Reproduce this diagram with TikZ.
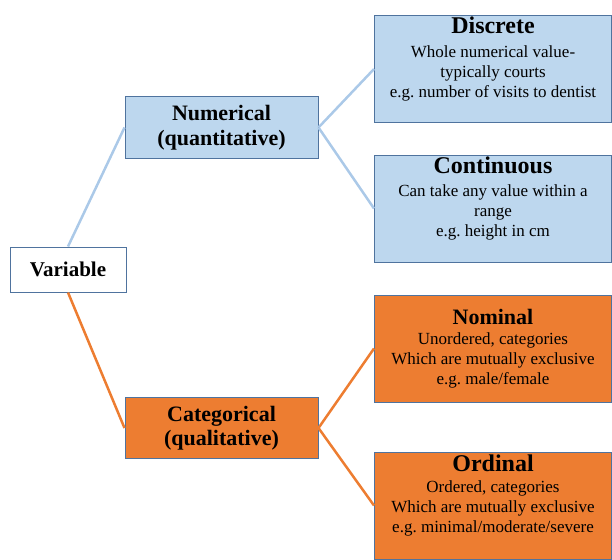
\documentclass[tikz,border=0pt]{standalone}
\usepackage{fontspec}
\setmainfont{Liberation Serif}
\frenchspacing

\definecolor{numfill}{HTML}{BDD7EE}
\definecolor{catfill}{HTML}{ED7D31}
\definecolor{boxline}{HTML}{4F739E}
\definecolor{numlink}{HTML}{ABC9E8}

% leaf text: top gap, title skip, title size, title, lines
\newcommand{\leafbox}[5]{\begin{minipage}[t][107pt][t]{237pt}\centering\fontsize{17}{20}\selectfont
\vspace*{#1}{\fontsize{#3}{#3}\selectfont\bfseries #4}\\[#2]#5\end{minipage}}

\begin{document}
\begin{tikzpicture}[x=1pt,y=-1pt,
	rootbox/.style={draw=boxline,line width=1pt,fill=white,minimum width=116,minimum height=45,inner sep=0pt,font=\fontsize{21}{24}\selectfont\bfseries},
	midbox/.style={draw=boxline,line width=1pt,minimum width=193,minimum height=61,inner sep=0pt,align=center,font=\fontsize{22}{24.5}\selectfont\bfseries},
	leaf/.style={draw=boxline,line width=1pt,inner sep=0pt},
	numline/.style={draw=numlink,line width=2.5pt},
	catline/.style={draw=catfill,line width=2.5pt}]
	\useasboundingbox (0,0) rectangle (612,559);

	% Text Node
	\node [rootbox] (variable) at (68,269.5) {Variable};
	% Text Node
	\node [midbox,fill=numfill] (numerical) at (221.5,127.5) {Numerical\\(quantitative)};
	% Text Node
	\node [midbox,fill=catfill] (categorical) at (221.5,428) {Categorical\\(qualitative)};

	% Text Node
	\node [leaf,fill=numfill] (discrete) at (493,69) {\leafbox{1.5pt}{4pt}{24}{Discrete}{Whole numerical value-\\typically courts\\e.g. number of visits to dentist}};
	% Text Node
	\node [leaf,fill=numfill] (continuous) at (493,208.5) {\leafbox{1.5pt}{3.5pt}{24}{Continuous}{Can take any value within a\\range\\e.g. height in cm}};
	% Text Node
	\node [leaf,fill=catfill] (nominal) at (493,348.5) {\leafbox{14.5pt}{0pt}{22}{Nominal}{Unordered, categories\\Which are mutually exclusive\\e.g. male/female}};
	% Text Node
	\node [leaf,fill=catfill] (ordinal) at (493,505.5) {\leafbox{3pt}{0.5pt}{24}{Ordinal}{Ordered, categories\\Which are mutually exclusive\\e.g. minimal/moderate/severe}};

	%Straight Lines
	\draw [numline] (variable.north) -- (numerical.west);
	\draw [numline] (numerical.east) -- (discrete.west);
	\draw [numline] (numerical.east) -- (continuous.west);
	%Straight Lines
	\draw [catline] (variable.south) -- (categorical.west);
	\draw [catline] (categorical.east) -- (nominal.west);
	\draw [catline] (categorical.east) -- (ordinal.west);
\end{tikzpicture}
\end{document}
